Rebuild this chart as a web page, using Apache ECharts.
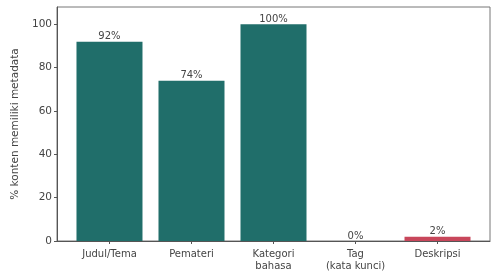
<!DOCTYPE html>
<html>
<head>
<meta charset="utf-8">
<script src="https://cdn.jsdelivr.net/npm/echarts@6/dist/echarts.min.js"></script>
<style>
  html, body { margin: 0; padding: 0; background: #fff; }
  #chart { width: 492px; height: 275px; }
</style>
</head>
<body>
<div id="chart"></div>
<script>
// data
const categories = ['Judul/Tema', 'Pemateri', 'Kategori\nbahasa', 'Tag\n(kata kunci)', 'Deskripsi'];
const values = [92, 74, 100, 0, 2];
const barColors = ['#206e6a', '#206e6a', '#206e6a', '#206e6a', '#c8475b'];
const yTicks = [0, 20, 40, 60, 80, 100];

let myChart = echarts.init(document.getElementById('chart'));
myChart.setOption({
  animation: false,
  textStyle: { fontFamily: 'DejaVu Sans' },
  grid: {
    left: 57, right: 2, top: 7, bottom: 34,
    show: true, borderColor: '#777', borderWidth: 1
  },
  xAxis: {
    type: 'value',
    min: -0.64,
    max: 4.64,
    splitLine: { show: false },
    axisLine: { show: true, onZero: false, lineStyle: { color: '#555' } },
    axisTick: { show: true, customValues: [0, 1, 2, 3, 4], length: 3, lineStyle: { color: '#555' } },
    axisLabel: {
      customValues: [0, 1, 2, 3, 4],
      formatter: v => categories[Math.round(v)],
      color: '#444', fontSize: 10, margin: 7, lineHeight: 12
    }
  },
  yAxis: {
    type: 'value',
    min: 0,
    max: 108,
    interval: 20,
    name: '% konten memiliki metadata',
    nameLocation: 'middle',
    nameGap: 36,
    nameTextStyle: { color: '#444', fontSize: 10.5 },
    splitLine: { show: false },
    axisLine: { show: true, onZero: false, lineStyle: { color: '#555' } },
    axisTick: { show: true, customValues: yTicks, length: 3, lineStyle: { color: '#555' } },
    axisLabel: { customValues: yTicks, color: '#444', fontSize: 10.5, margin: 5 }
  },
  series: [{
    type: 'bar',
    barWidth: 66,
    data: values.map((v, i) => ({ value: [i, v], itemStyle: { color: barColors[i] } })),
    label: {
      show: true, position: 'top', distance: 0,
      formatter: p => p.value[1] + '%',
      color: '#444', fontSize: 10
    }
  }]
});
</script>
</body>
</html>
